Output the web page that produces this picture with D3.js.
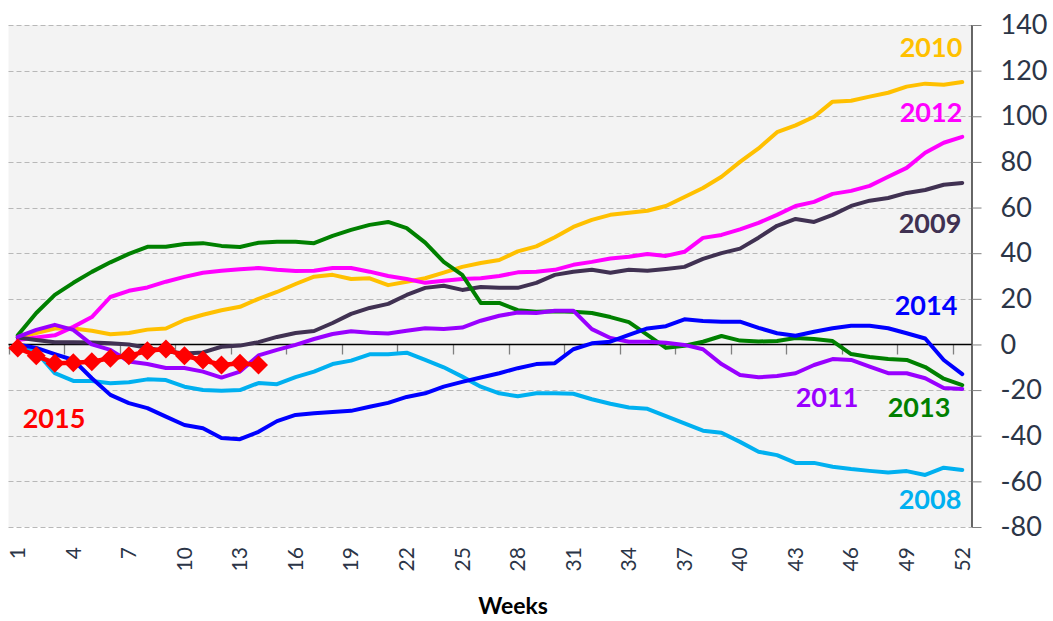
<!DOCTYPE html>
<html>
<head>
<meta charset="utf-8">
<script src="https://cdn.jsdelivr.net/npm/d3@7"></script>
<style>
  html, body { margin: 0; padding: 0; background: #ffffff; }
  svg { display: block; font-family: Lato, "Open Sans", sans-serif; }
</style>
</head>
<body>
<svg id="chart" width="1053" height="621"></svg>
<script>
const weeks = d3.range(1, 53);
const tickWeeks = [1, 4, 7, 10, 13, 16, 19, 22, 25, 28, 31, 34, 37, 40, 43, 46, 49, 52];
const yTicks = [140, 120, 100, 80, 60, 40, 20, 0, -20, -40, -60, -80];

const s2008 = [0, -3.3, -12.6, -16, -16, -17, -16.6, -15.3, -15.6, -18.5, -20, -20.3, -20, -16.9,
  -17.4, -14.3, -11.9, -8.6, -7.1, -4.3, -4.3, -3.6, -6.8, -10, -14.1, -18.5, -21.4, -22.7,
  -21.4, -21.4, -21.6, -24, -26, -27.6, -28.2, -31.4, -34.6, -37.8, -38.7, -42.7, -47, -48.5,
  -51.9, -51.9, -53.6, -54.6, -55.4, -56.1, -55.5, -57.2, -54, -55];
const s2009 = [3, 2, 1, 1, 0.9, 0.5, 0, -1.5, -3, -4, -3.5, -1, -0.5, 1,
  3.3, 5, 5.9, 9.4, 13.4, 16, 17.8, 21.7, 24.8, 25.7, 23.9, 25.2, 24.8, 24.8,
  27, 30.5, 31.9, 32.7, 31.4, 32.7, 32.3, 33.1, 34, 37.5, 40, 42, 46.8, 52,
  55, 53.7, 56.8, 60.7, 63, 64.2, 66.4, 67.7, 70, 70.8];
const s2010 = [3, 5, 7, 7, 6, 4.5, 5, 6.5, 7, 10.7, 13, 15, 16.5, 20,
  23, 26.5, 29.7, 30.5, 28.7, 29, 26, 27.5, 29, 31.5, 34, 35.7, 37, 40.8,
  43, 47, 51.5, 54.6, 56.8, 57.7, 58.6, 60.7, 64.6, 68.6, 73.5, 80, 85.9, 93,
  96, 99.8, 106.4, 106.8, 108.6, 110.3, 113, 114.3, 113.8, 115];
const s2011 = [3.3, 6.4, 8.6, 6.4, 0, -2.4, -7.5, -8.6, -10.3, -10.3, -11.9, -14.5, -11.9, -4.8,
  -2.4, -0.2, 2.4, 4.6, 5.8, 5.1, 4.8, 6, 7.1, 6.8, 7.4, 10.4, 12.6, 14,
  13.8, 14.8, 14.8, 6.7, 2.8, 1.2, 1.2, 0.7, -0.2, -2.1, -8.6, -13.4, -14.4, -13.8,
  -12.6, -9, -6.4, -6.8, -9.7, -12.6, -12.6, -14.8, -19.1, -19.5];
const s2012 = [2, 3, 4, 7.7, 12, 20.8, 23.5, 25, 27.5, 29.6, 31.4, 32.3, 33, 33.5,
  32.7, 32.2, 32.3, 33.5, 33.5, 31.9, 30, 28.7, 27, 27.9, 28.7, 29, 30, 31.6,
  31.9, 32.7, 34.9, 36.2, 37.7, 38.4, 39.6, 38.8, 40.6, 46.7, 48, 50.4, 53.3, 56.8,
  60.7, 62.5, 66, 67.3, 69.5, 73.5, 77.4, 84, 88.4, 91];
const s2013 = [4, 13.8, 21.7, 27, 31.8, 36, 39.7, 42.8, 42.8, 44, 44.4, 43.2, 42.7, 44.6,
  45, 45, 44.4, 47.6, 50.2, 52.4, 53.7, 51, 44.6, 36.2, 30.5, 18.2, 18.2, 15,
  14.3, 14.6, 14.3, 13.8, 12, 9.8, 4.2, -1.5, -0.6, 1.2, 3.7, 1.7, 1.3, 1.5,
  2.8, 2.4, 1.5, -4.2, -5.5, -6.4, -6.8, -9.9, -15, -17.8];
const s2014 = [0, -1.5, -4.2, -6.8, -14.8, -22.1, -25.7, -27.9, -31.6, -35.3, -36.7, -41, -41.5, -38.3,
  -33.6, -30.9, -30.2, -29.6, -29.1, -27.3, -25.6, -23, -21.4, -18.5, -16.4, -14.5, -12.6, -10.4,
  -8.6, -8.2, -2.1, 0.5, 1.2, 4.2, 7, 8, 11, 10.3, 10, 10, 7.3, 4.9,
  3.8, 5.6, 7.1, 8.2, 8.2, 7.1, 4.9, 2.6, -6.8, -13];
const s2015 = [-1.5, -5, -8.2, -8, -7.6, -6, -5, -2.8, -2, -5, -6.8, -9, -8.2, -9];

const seriesNames = ["2008", "2009", "2010", "2011", "2012", "2013", "2014", "2015"];
const seriesColors = ["#00b0f0", "#403152", "#ffc000", "#9900ff", "#ff00ff", "#008000", "#0000ff", "#ff0000"];
const seriesValues = [s2008, s2009, s2010, s2011, s2012, s2013, s2014, s2015];
const labelPos = [[930, 509], [930, 233], [931, 57], [827, 407], [931, 122], [919, 417], [926, 315], [54, 428]];
const drawOrder = [2, 4, 1, 5, 3, 0, 6, 7];

const svg = d3.select("#chart");
const pLeft = 8.5, pRight = 971.5, pTop = 25, pBottom = 527;

const x = d3.scaleBand().domain(weeks).range([pLeft, pRight]).padding(0);
const y = d3.scaleLinear().domain([-80, 140]).range([pBottom, pTop]);
const cx = w => x(w) + x.bandwidth() / 2;

// background
svg.append("rect").attr("x", pLeft).attr("y", pTop).attr("width", pRight - pLeft).attr("height", pBottom - pTop)
  .attr("fill", "#f3f3f3");

// gridlines
svg.append("g").selectAll("line").data(yTicks.filter(t => t !== 0)).join("line")
  .attr("x1", pLeft).attr("x2", pRight)
  .attr("y1", d => Math.round(y(d)) + 0.5).attr("y2", d => Math.round(y(d)) + 0.5)
  .attr("stroke", "#b8b8b8").attr("stroke-width", 1).attr("stroke-dasharray", "5,3");

// right y axis
const yAxis = d3.axisRight(y).tickValues(yTicks).tickSize(10).tickPadding(19).tickFormat(d3.format("d"));
const gy = svg.append("g").attr("transform", `translate(${pRight},0)`).call(yAxis);
gy.select(".domain").attr("stroke", "#000").attr("stroke-width", 1.2).attr("d", `M0.5,${pTop}V${pBottom}`);
gy.selectAll(".tick line").attr("stroke", "#808080");
gy.selectAll(".tick text").attr("font-size", 27).attr("fill", "#2b3547")
  .attr("font-family", "Lato, sans-serif").text(d => d < 0 ? "-" + Math.abs(d) : d);

// x axis at zero (ticks at category boundaries)
const zeroY = Math.round(y(0)) + 0.5;
const boundaryTicks = tickWeeks.map(w => x(w));
svg.append("g").selectAll("line").data(boundaryTicks).join("line")
  .attr("x1", d => Math.round(d) + 0.5).attr("x2", d => Math.round(d) + 0.5)
  .attr("y1", zeroY).attr("y2", zeroY + 10)
  .attr("stroke", "#808080").attr("stroke-width", 1.3);
svg.append("line").attr("x1", pLeft).attr("x2", pRight).attr("y1", zeroY).attr("y2", zeroY)
  .attr("stroke", "#000").attr("stroke-width", 1.5);

// x tick labels (rotated)
svg.append("g").selectAll("text").data(tickWeeks).join("text")
  .attr("transform", d => `translate(${cx(d)},547) rotate(-90)`)
  .attr("text-anchor", "end").attr("dy", "0.35em")
  .attr("font-size", 21).attr("fill", "#2b3547").text(d => d);

// x title
svg.append("text").attr("x", 513).attr("y", 614).attr("text-anchor", "middle")
  .attr("font-size", 23).attr("font-weight", "bold").attr("fill", "#000").text("Weeks");

// lines
const line = d3.line().x((d, i) => cx(weeks[i])).y(d => y(d));
const gLines = svg.append("g");
drawOrder.forEach(k => {
  gLines.append("path").datum(seriesValues[k])
    .attr("d", line).attr("fill", "none")
    .attr("stroke", seriesColors[k]).attr("stroke-width", k === 7 ? 4.5 : 4)
    .attr("stroke-linejoin", "round").attr("stroke-linecap", "round");
});

// 2015 markers
const sym = d3.symbol().type(d3.symbolDiamond2).size(230);
svg.append("g").selectAll("path").data(s2015).join("path")
  .attr("transform", (d, i) => `translate(${cx(weeks[i])},${y(d)})`)
  .attr("d", sym).attr("fill", "#ff0000");

// series labels
svg.append("g").selectAll("text").data(seriesNames).join("text")
  .attr("x", (d, i) => labelPos[i][0]).attr("y", (d, i) => labelPos[i][1])
  .attr("text-anchor", "middle").attr("font-size", 27).attr("font-weight", "bold")
  .attr("fill", (d, i) => seriesColors[i]).text(d => d);
</script>
</body>
</html>
